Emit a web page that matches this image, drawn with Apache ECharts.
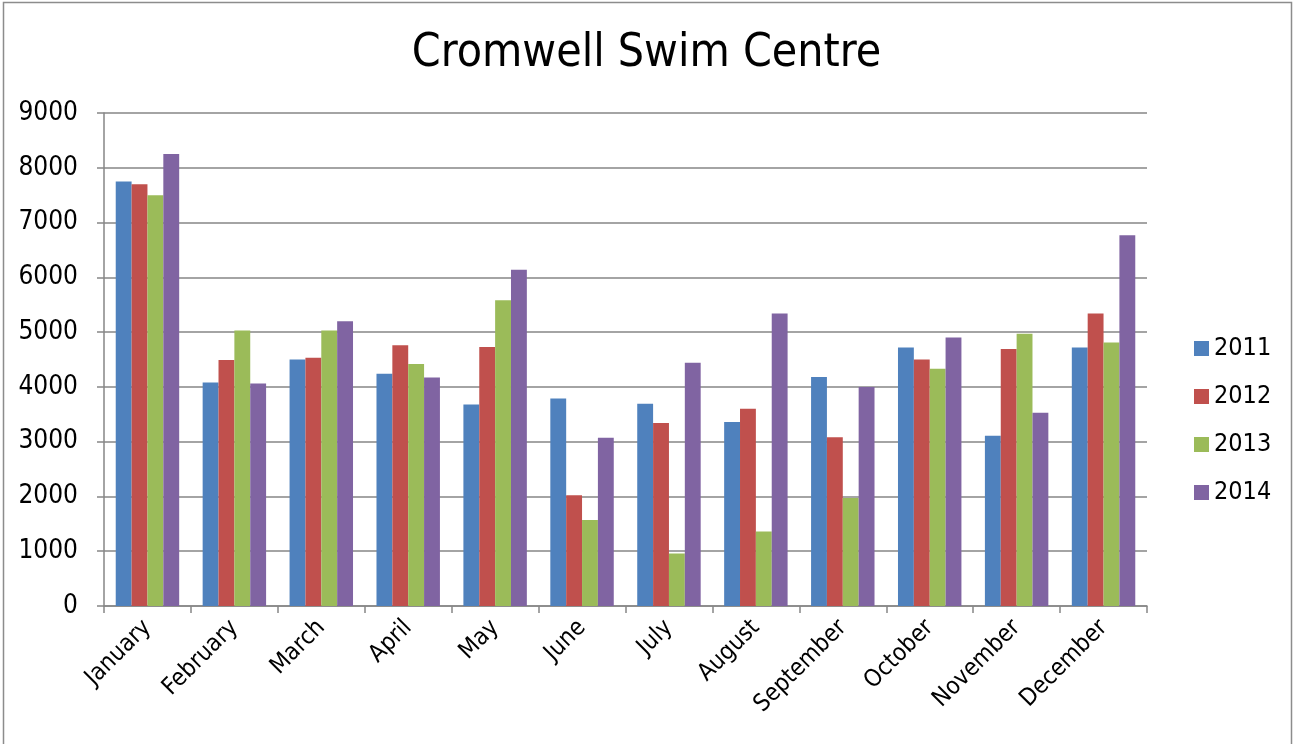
<!DOCTYPE html>
<html>
<head>
<meta charset="utf-8">
<script src="https://cdn.jsdelivr.net/npm/echarts@6/dist/echarts.min.js"></script>
<style>
  html, body { margin: 0; padding: 0; background: #fff; }
  #chart { width: 1293px; height: 744px; }
</style>
</head>
<body>
<div id="chart"></div>
<script>
// months on the x axis
var months = ['January', 'February', 'March', 'April', 'May', 'June', 'July',
  'August', 'September', 'October', 'November', 'December']
// visitors per year
var y2011 = [7750, 4080, 4500, 4240, 3680, 3790, 3690, 3360, 4180, 4720, 3110, 4720]
var y2012 = [7700, 4490, 4530, 4760, 4730, 2020, 3340, 3600, 3080, 4500, 4690, 5340]
var y2013 = [7500, 5030, 5030, 4420, 5580, 1570, 960, 1360, 1970, 4330, 4970, 4810]
var y2014 = [8250, 4060, 5200, 4170, 6140, 3070, 4440, 5340, 4000, 4900, 3530, 6770]
var years = ['2011', '2012', '2013', '2014']
var colors = ['#4F81BD', '#C0504D', '#9BBB59', '#8064A2']

var font = '"Liberation Sans Narrow", "DejaVu Sans Condensed", "Roboto", sans-serif'
var myChart = echarts.init(document.getElementById('chart'))

var allData = [y2011, y2012, y2013, y2014]
var series = years.map(function (y, i) {
  return {
    name: y,
    type: 'bar',
    data: allData[i],
    barGap: '0%',
    barCategoryGap: '27%',
    itemStyle: { color: colors[i] }
  }
})

var option = {
  animation: false,
  color: colors,
  title: {
    text: 'Cromwell Swim Centre',
    left: 'center',
    top: 26,
    textStyle: { fontFamily: font, fontSize: 46, fontWeight: 'normal', color: '#000' }
  },
  graphic: [{
    type: 'rect',
    shape: { x: 3.5, y: 2.5, width: 1288, height: 760 },
    style: { fill: 'none', stroke: '#8c8c8c', lineWidth: 1.5 }
  }],
  legend: {
    orient: 'vertical',
    left: 1189,
    top: 331,
    itemWidth: 15,
    itemHeight: 15,
    itemGap: 23,
    icon: 'rect',
    textStyle: { fontFamily: font, fontSize: 25, color: '#000' },
    data: years
  },
  grid: { left: 104, right: 146, top: 113, bottom: 138, containLabel: false },
  xAxis: {
    type: 'category',
    data: months,
    axisLine: { lineStyle: { color: '#868686', width: 1.5 } },
    axisTick: { show: true, length: 7, lineStyle: { color: '#868686', width: 1.5 } },
    axisLabel: {
      rotate: 45,
      margin: 18,
      fontFamily: font,
      fontSize: 24,
      color: '#000'
    }
  },
  yAxis: {
    type: 'value',
    min: 0,
    max: 9000,
    interval: 1000,
    axisLine: { show: true, lineStyle: { color: '#868686', width: 1.5 } },
    axisTick: { show: true, length: 7, lineStyle: { color: '#868686', width: 1.5 } },
    splitLine: { lineStyle: { color: '#868686', width: 1.5 } },
    axisLabel: {
      margin: 26,
      fontFamily: font,
      fontSize: 26,
      color: '#000',
      formatter: function (v) { return String(v) }
    }
  },
  series: series
}

myChart.setOption(option)
</script>
</body>
</html>
